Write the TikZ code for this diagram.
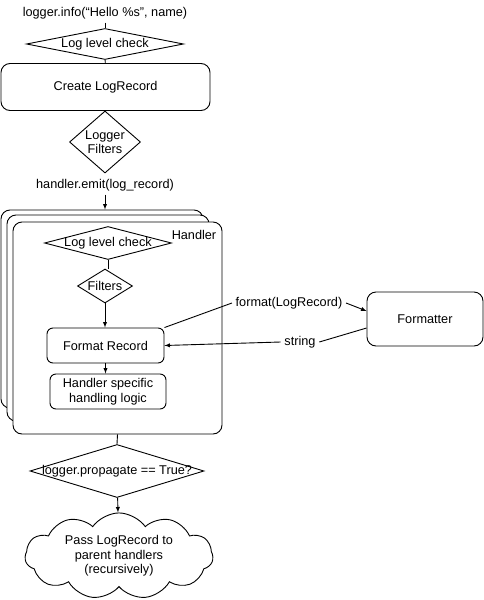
\documentclass[tikz,border=0pt]{standalone}
\usepackage{fontspec}
\setmainfont{Liberation Sans}
\usetikzlibrary{shapes.geometric,shapes.symbols}
\newcommand{\nowidth}[1]{\makebox[0pt]{#1}}

\begin{document}
\begin{tikzpicture}[x=1pt,y=-1pt,font=\fontsize{12.7}{14.5}\selectfont,line width=0.9pt,>=latex]

      \useasboundingbox (0,0) rectangle (484,600);

      \node (call) at (105,13) {logger.info(“Hello \%s”, name)};
      \node (emit) at (105,185) {handler.emit(log\_record)};
      \node (fmtcall) at (289,303) {format(LogRecord)};
      \node (string) at (300,342) {string};

      \begin{scope}[every node/.style={draw,rounded corners=9pt,inner sep=0pt,fill=white}]
        \node[minimum width=209,minimum height=47] (create) at (105.5,87) {Create LogRecord};
        \node[minimum width=202,minimum height=198] (hback) at (102,309) {};
        \node[minimum width=202,minimum height=206] (hmid) at (108,318) {};
        \node[minimum width=209,minimum height=212] (handler) at (117.5,328) {};
        \node[minimum width=116,minimum height=54] (formatter) at (425,319) {Formatter};
      \end{scope}

      \node (hlabel) at (194,235) {Handler};

      \begin{scope}[every node/.style={draw,rounded corners=6pt,inner sep=0pt,align=center}]
        \node[minimum width=117,minimum height=35] (fmt) at (105.5,345.5) {Format Record};
        \node[minimum width=116,minimum height=35] (specific) at (108,391.5) {Handler specific\\handling logic};
      \end{scope}

      \begin{scope}[every node/.style={diamond,draw,inner sep=0pt,aspect=1,fill=white}]
        \node[minimum width=157,minimum height=31] (check) at (105,44) {\nowidth{Log level check}};
        \node[minimum width=71,minimum height=62,aspect=1.15,align=center] (lfilters) at (105,142) {Logger\\Filters};
        \node[minimum width=127,minimum height=33] (hcheck) at (108,243) {\nowidth{Log level check}};
        \node[minimum width=55,minimum height=34] (filters) at (105,286) {\nowidth{Filters}};
        \node[minimum width=174,minimum height=53] (propagate) at (117,471) {\nowidth{logger.propagate == True?}};
      \end{scope}

      \node[cloud,draw,cloud puffs=11,cloud puff arc=110,aspect=2.3,inner sep=0pt,
            minimum width=188,minimum height=82,align=center] (parent) at (119,556)
            {Pass LogRecord to\\parent handlers\\(recursively)};

      \draw (call) -- (check);
      \draw (check) -- (create);
      \draw[->] (emit) -- (emit |- hback.north);
      \draw (hcheck) -- (hcheck |- filters.north);
      \draw[->] (filters) -- (filters |- fmt.north);
      \draw[->] (fmt) -- (fmt |- specific.north);
      \draw (fmt.north east) -- (fmtcall.west);
      \draw[->] (fmtcall.east) -- ([yshift=8pt]formatter.west);
      \draw ([yshift=-9pt]formatter.west) -- (string.east);
      \draw[->] (string.west) -- (fmt.east);
      \draw (handler.south) -- (propagate.north);
      \draw[->] (propagate) -- (parent);

    \end{tikzpicture}
\end{document}
